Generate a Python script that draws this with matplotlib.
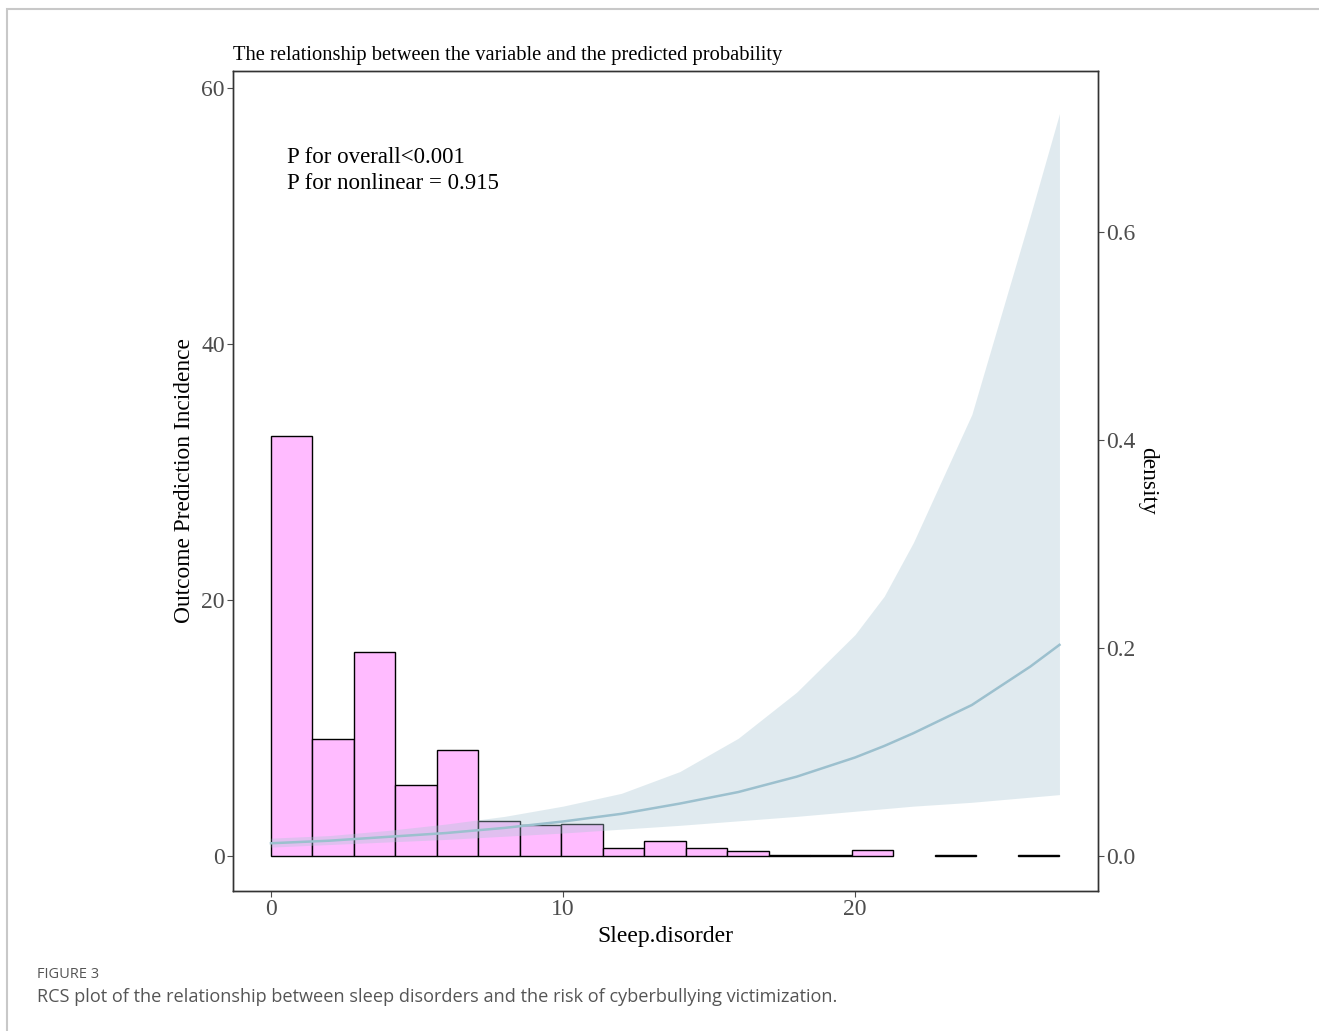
import numpy as np
import matplotlib
matplotlib.use("Agg")
import matplotlib.pyplot as plt
from matplotlib.patches import Rectangle

# histogram of Sleep.disorder (density), 19 bins over 0..27
bin_edges = np.linspace(0, 27, 20)
density = [0.404, 0.1125, 0.196, 0.068, 0.102, 0.034, 0.030, 0.031, 0.0077, 0.0144,
           0.0077, 0.0048, 0.0008, 0.0008, 0.0055, 0.0, 0.0008, 0.0, 0.0008]

# RCS fitted curve and 95% CI (left axis)
x_fit = [0, 2, 4, 6, 8, 10, 12, 14, 16, 18, 20, 21, 22, 24, 26, 27]
y_fit = [1.0, 1.2, 1.5, 1.8, 2.2, 2.7, 3.3, 4.1, 5.0, 6.2, 7.7, 8.6, 9.6, 11.8, 14.8, 16.5]
y_low = [0.7, 0.9, 1.1, 1.3, 1.55, 1.8, 2.1, 2.4, 2.75, 3.1, 3.5, 3.7, 3.9, 4.2, 4.6, 4.8]
y_up = [1.4, 1.6, 2.0, 2.5, 3.1, 3.9, 4.9, 6.6, 9.2, 12.8, 17.3, 20.3, 24.5, 34.5, 50.0, 58.0]

serif = "Liberation Serif"
tick_col = "#4D4D4D"

fig = plt.figure(figsize=(13.19, 10.31), dpi=100)
fig.patches.append(Rectangle((7 / 1319, -0.01), 1.02, 1 - 9 / 1031 + 0.01,
                             transform=fig.transFigure, fill=False,
                             edgecolor="#C8C8C8", linewidth=1.5))

ax = fig.add_axes([233 / 1319, 140 / 1031, 865 / 1319, 820 / 1031])
ax2 = ax.twinx()
ax.set_zorder(ax2.get_zorder() + 1)
ax.patch.set_visible(False)

# histogram on density axis
widths = np.diff(bin_edges)
for left, w, h in zip(bin_edges[:-1], widths, density):
    if h > 0:
        ax2.bar(left, h, width=w, align="edge", color="#FFBBFF",
                edgecolor="black", linewidth=1.0)

# ribbon and curve on top
ax.fill_between(x_fit, y_low, y_up, color="#A9C7D4", alpha=0.36, linewidth=0)
ax.plot(x_fit, y_fit, color="#9CC0CE", linewidth=1.8)

ax.set_xlim(-1.3, 28.32)
ax.set_ylim(-2.73, 61.33)
ax2.set_ylim(-2.73 / 81.25, 61.33 / 81.25)

ax.set_xticks([0, 10, 20])
ax.set_yticks([0, 20, 40, 60])
ax2.set_yticks([0.0, 0.2, 0.4, 0.6])
ax2.set_yticklabels(["0.0", "0.2", "0.4", "0.6"])

for a in (ax, ax2):
    for s in a.spines.values():
        s.set_color("#333333")
        s.set_linewidth(1.0)
    a.tick_params(colors=tick_col, labelsize=17, length=4, width=0.8, pad=2)
    for lab in a.get_xticklabels() + a.get_yticklabels():
        lab.set_family(serif)
        lab.set_color(tick_col)

ax.set_xlabel("Sleep.disorder", family=serif, fontsize=17, labelpad=4)
ax.set_ylabel("Outcome Prediction Incidence", family=serif, fontsize=16.8, labelpad=4)
ax2.set_ylabel("density", family=serif, fontsize=16.8, rotation=270, labelpad=16)
ax.set_title("The relationship between the variable and the predicted probability",
             family=serif, fontsize=14.8, loc="left", pad=8)

ax.text(0.062, 0.907, "P for overall<0.001\nP for nonlinear = 0.915",
        transform=ax.transAxes, family=serif, fontsize=16.5, va="top",
        linespacing=1.27)

fig.text(37 / 1319, 1 - 974 / 1031, "FIGURE 3", family="Open Sans",
         fontsize=10.5, color="#555555", va="center")
fig.text(37 / 1319, 1 - 997 / 1031,
         "RCS plot of the relationship between sleep disorders and the risk of cyberbullying victimization.",
         family="Open Sans", fontsize=13.1, color="#555555", va="center")

fig.savefig("out.png", dpi=100)
